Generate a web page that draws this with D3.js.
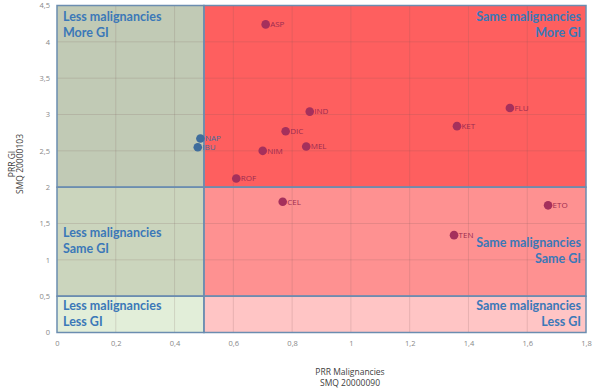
<!DOCTYPE html>
<html>
<head>
<meta charset="utf-8">
<script src="https://cdn.jsdelivr.net/npm/d3@7"></script>
<style>
  body { margin: 0; background: #fff; }
  svg { display: block; }
</style>
</head>
<body>
<script>
// drug codes with their PRR values
var drugs = ["ASP", "NAP", "IBU", "DIC", "NIM", "ROF", "IND", "MEL", "KET", "FLU", "CEL", "ETO", "TEN"];
var prrMalig = [0.71, 0.488, 0.479, 0.778, 0.70, 0.61, 0.86, 0.848, 1.361, 1.541, 0.768, 1.671, 1.351];
var prrGI = [4.24, 2.67, 2.55, 2.77, 2.50, 2.12, 3.04, 2.56, 2.84, 3.09, 1.80, 1.75, 1.34];
var drugGroup = ["o", "b", "b", "o", "o", "o", "o", "o", "o", "o", "o", "o", "o"];

var xTicks = [0, 0.2, 0.4, 0.6, 0.8, 1, 1.2, 1.4, 1.6, 1.8];
var yTicks = [0, 0.5, 1, 1.5, 2, 2.5, 3, 3.5, 4, 4.5];

// quadrant cut points
var xCuts = [0, 0.5, 1.8];
var yCuts = [0, 0.5, 2, 4.5];
var quadNames = [
    ["Less malignancies", "Less GI"], ["Same malignancies", "Less GI"],
    ["Less malignancies", "Same GI"], ["Same malignancies", "Same GI"],
    ["Less malignancies", "More GI"], ["Same malignancies", "More GI"]
];

var width = 600, height = 390;
var fills = ["#e2eed9", "#ffc5c5", "#cbd5bd", "#fe9191", "#c1cab5", "#fe5f5f"];
var dotColors = {o: "#a5305c", b: "#3f6d9c"};

var svg = d3.select('body').append('svg')
    .attr('width', width)
    .attr('height', height);

var x = d3.scaleLinear().domain([0, 1.8]).range([57, 586]);
var y = d3.scaleLinear().domain([0, 4.5]).range([332.5, 5.5]);

// quadrant rectangles
var quads = [];
for (var r = 0; r < 3; r++) {
    for (var c = 0; c < 2; c++) {
        quads.push({x0: xCuts[c], x1: xCuts[c + 1], y0: yCuts[r], y1: yCuts[r + 1], row: r, col: c,
            name: quadNames[r * 2 + c], fill: fills[r * 2 + c]});
    }
}

svg.selectAll('rect.quad')
    .data(quads)
    .enter()
    .append('rect')
    .attr('class', 'quad')
    .attr('x', function (d) { return x(d.x0) })
    .attr('y', function (d) { return y(d.y1) })
    .attr('width', function (d) { return x(d.x1) - x(d.x0) })
    .attr('height', function (d) { return y(d.y0) - y(d.y1) })
    .style('fill', function (d) { return d.fill });

// gridlines
svg.append('g')
    .selectAll('line')
    .data(xTicks.slice(1, -1))
    .enter()
    .append('line')
    .attr('x1', function (d) { return x(d) })
    .attr('x2', function (d) { return x(d) })
    .attr('y1', y(4.5))
    .attr('y2', y(0))
    .attr('stroke', 'rgba(120,90,90,0.18)')
    .attr('stroke-width', 1);

svg.append('g')
    .selectAll('line')
    .data(yTicks.slice(1, -1))
    .enter()
    .append('line')
    .attr('x1', x(0))
    .attr('x2', x(1.8))
    .attr('y1', function (d) { return y(d) })
    .attr('y2', function (d) { return y(d) })
    .attr('stroke', 'rgba(120,90,90,0.18)')
    .attr('stroke-width', 1);

// quadrant borders
svg.selectAll('rect.qborder')
    .data(quads)
    .enter()
    .append('rect')
    .attr('class', 'qborder')
    .attr('x', function (d) { return x(d.x0) })
    .attr('y', function (d) { return y(d.y1) })
    .attr('width', function (d) { return x(d.x1) - x(d.x0) })
    .attr('height', function (d) { return y(d.y0) - y(d.y1) })
    .style('fill', 'none')
    .attr('stroke', '#6b8db0')
    .attr('stroke-width', 1.5);

// quadrant labels
var labelTop = {2: 17, 1: 233, 0: 306};  // first-line centre for each row
var labelTopRight = {2: 17, 1: 243, 0: 306};
var ql = svg.selectAll('text.qlab')
    .data(quads)
    .enter()
    .append('text')
    .attr('class', 'qlab')
    .attr('text-anchor', function (d) { return d.col == 0 ? 'start' : 'end' })
    .attr('x', function (d) { return d.col == 0 ? x(d.x0) + 6 : x(d.x1) - 5 })
    .attr('y', function (d) { return (d.col == 0 ? labelTop[d.row] : labelTopRight[d.row]) })
    .style('font-family', 'Lato, "Open Sans", sans-serif')
    .style('font-weight', 'bold')
    .style('font-size', '12.5px')
    .style('fill', '#3b78b8');
ql.selectAll('tspan')
    .data(function (d) { return d.name.map(function (t) { return {t: t, col: d.col} }) })
    .enter()
    .append('tspan')
    .attr('x', function (d) { return d3.select(this.parentNode).attr('x') })
    .attr('dy', function (d, i) { return i == 0 ? '0.35em' : '16px' })
    .text(function (d) { return d.t });

// axes
var xAxis = d3.axisBottom(x).tickValues(xTicks).tickSize(0).tickPadding(8)
    .tickFormat(function (d) { return String(d).replace('.', ',') });
var yAxis = d3.axisLeft(y).tickValues(yTicks).tickSize(0).tickPadding(7)
    .tickFormat(function (d) { return String(d).replace('.', ',') });

var gx = svg.append('g').attr('transform', 'translate(0,' + y(0) + ')').call(xAxis);
var gy = svg.append('g').attr('transform', 'translate(' + x(0) + ',0)').call(yAxis);
[gx, gy].forEach(function (g) {
    g.select('.domain').remove();
    g.selectAll('text')
        .style('font-family', '"Open Sans", sans-serif')
        .style('font-size', '7.5px')
        .style('fill', '#888');
});

// points
var pts = drugs.map(function (d, i) {
    return {name: d, mx: prrMalig[i], gi: prrGI[i], grp: drugGroup[i]};
});

var u = svg.append('g')
    .selectAll('circle')
    .data(pts);

u.enter()
    .append('circle')
    .attr('r', 4.3)
    .style('fill', function (d) { return dotColors[d.grp] })
    .attr('cx', function (d) { return x(d.mx) })
    .attr('cy', function (d) { return y(d.gi) });

svg.append('g')
    .selectAll('text')
    .data(pts)
    .enter()
    .append('text')
    .attr('x', function (d) { return x(d.mx) + 4.5 })
    .attr('y', function (d) { return y(d.gi) })
    .attr('dy', '0.35em')
    .style('font-family', '"Open Sans", sans-serif')
    .style('font-size', '8px')
    .style('fill', function (d) { return d.grp == 'b' ? '#3f6d9c' : '#9b2c50' })
    .text(function (d) { return d.name });

// axis titles
var xt = svg.append('text')
    .attr('text-anchor', 'middle')
    .style('font-family', '"Open Sans", sans-serif')
    .style('font-size', '8.5px')
    .style('fill', '#404040');
xt.append('tspan').attr('x', 350).attr('y', 375).text('PRR Malignancies');
xt.append('tspan').attr('x', 350).attr('y', 386).text('SMQ 20000090');

var yt = svg.append('text')
    .attr('text-anchor', 'middle')
    .attr('transform', 'translate(0,164) rotate(-90)')
    .style('font-family', '"Open Sans", sans-serif')
    .style('font-size', '8.5px')
    .style('fill', '#404040');
yt.append('tspan').attr('x', 0).attr('y', 15).text('PRR GI');
yt.append('tspan').attr('x', 0).attr('y', 23).text('SMQ 20000103');
</script>
</body>
</html>
